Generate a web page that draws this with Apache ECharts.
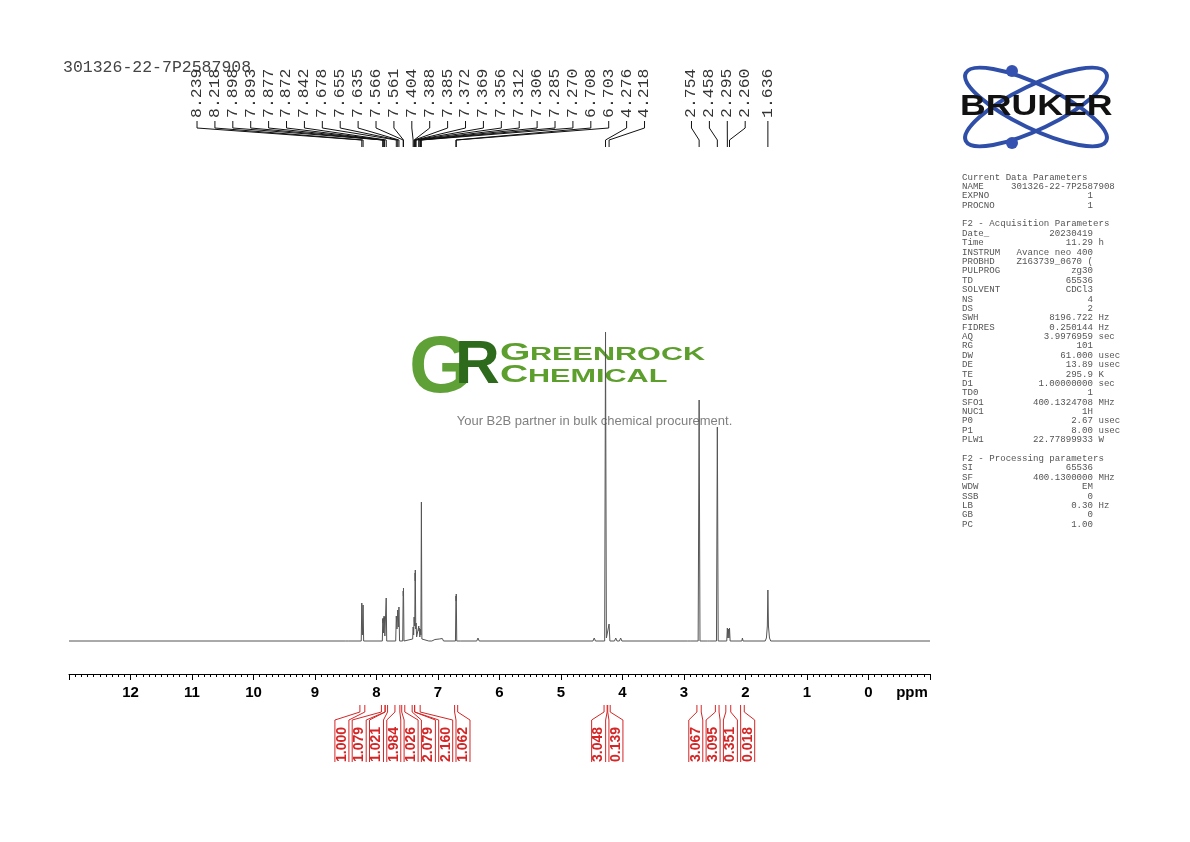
<!DOCTYPE html>
<html><head><meta charset="utf-8">
<script src="https://cdn.jsdelivr.net/npm/echarts/dist/echarts.min.js"></script>
<style>html,body{margin:0;padding:0;background:#fff}#c{width:1190px;height:842px}</style>
</head><body><div id="c"></div>
<script>
// ---------------- data ----------------
const sampleName = '301326-22-7P2587908';

// spectrum trace: [chemical shift (ppm), intensity]
const spectrum = [
  [13.0,0],[8.50,0],[8.48,1.5],[8.46,0],
  [8.248,0],[8.239,38],[8.229,6],[8.218,36],[8.209,0],
  [7.905,0],[7.898,22],[7.895,18],[7.893,23],[7.885,8],[7.877,25],[7.875,20],[7.872,24],[7.864,5],[7.850,5],[7.842,43],[7.834,0],
  [7.688,0],[7.678,25],[7.667,12],[7.655,31],[7.645,14],[7.635,34],[7.625,0],
  [7.574,0],[7.566,50],[7.563,45],[7.561,53],[7.553,0],
  [7.412,2],[7.404,14],[7.396,6],[7.388,24],[7.387,20],[7.385,22],[7.378,15],[7.372,68],[7.370,60],[7.369,71],[7.362,12],[7.356,18],[7.348,4],
  [7.320,4],[7.312,15],[7.309,10],[7.306,13],[7.295,4],[7.285,12],[7.278,6],[7.270,139],[7.262,2],
  [7.15,0],[7.12,2],[7.10,0],[7.05,1.5],[7.03,0],[6.98,2],[6.96,0],[6.93,2.5],[6.91,0],
  [6.716,0],[6.708,45],[6.705,40],[6.703,47],[6.695,0],
  [6.63,0],[6.62,2],[6.61,0],[6.37,0],[6.35,3],[6.33,0],
  [4.48,0],[4.46,3],[4.44,0],
  [4.29,0],[4.276,309],[4.262,3],[4.232,2],[4.218,17],[4.205,0],
  [4.13,0],[4.11,3],[4.09,0],[4.05,0],[4.03,3],[4.01,0],
  [2.94,0],[2.92,2],[2.90,0],
  [2.77,0],[2.754,241],[2.740,0],
  [2.62,0],[2.60,2],[2.58,0],
  [2.472,0],[2.458,214],[2.444,0],
  [2.305,0],[2.295,13],[2.287,3],[2.278,12],[2.269,3],[2.260,13],[2.250,0],
  [2.06,0],[2.05,3],[2.04,0],
  [1.68,0],[1.66,3],[1.645,15],[1.636,51],[1.627,15],[1.61,3],[1.59,0],
  [-1.0,0]
];

const peakLabels = [8.239, 8.218, 7.898, 7.893, 7.877, 7.872, 7.842, 7.678, 7.655, 7.635, 7.566, 7.561,
  7.404, 7.388, 7.385, 7.372, 7.369, 7.356, 7.312, 7.306, 7.285, 7.270, 6.708, 6.703, 4.276, 4.218,
  2.754, 2.458, 2.295, 2.260, 1.636];

const integralValues = ['1.000','1.079','1.021','1.984','1.026','2.079','2.160','1.062','3.048','0.139','3.067','3.095','0.351','0.018'];
const integralFrom = [8.27, 7.92, 7.86, 7.70, 7.59, 7.42, 7.38, 6.73, 4.30, 4.24, 2.79, 2.49, 2.32, 2.08];
const integralTo   = [8.19, 7.86, 7.82, 7.62, 7.54, 7.38, 7.29, 6.68, 4.25, 4.20, 2.72, 2.43, 2.24, 2.02];

const axisMin = -1, axisMax = 13, axisStep = 1;

const curKeys = ['NAME', 'EXPNO', 'PROCNO'];
const curValues = [sampleName, '1', '1'];
const acqKeys = ['Date_','Time','INSTRUM','PROBHD','PULPROG','TD','SOLVENT','NS','DS','SWH','FIDRES','AQ','RG','DW','DE','TE','D1','TD0','SFO1','NUC1','P0','P1','PLW1'];
const acqValues = ['20230419','11.29','Avance neo 400','Z163739_0670 (','zg30','65536','CDCl3','4','2','8196.722','0.250144','3.9976959','101','61.000','13.89','295.9','1.00000000','1','400.1324708','1H','2.67','8.00','22.77899933'];
const acqUnits = ['','h','','','','','','','','Hz','Hz','sec','','usec','usec','K','sec','','MHz','','usec','usec','W'];
const procKeys = ['SI','SF','WDW','SSB','LB','GB','PC'];
const procValues = ['65536','400.1300000','EM','0','0.30','0','1.00'];
const procUnits = ['','MHz','','','Hz','',''];

// ---------------- helpers ----------------
function fmt(k, v, u) { return k.padEnd(8) + v.padStart(16) + (u ? ' ' + u : ''); }
const paramLines = ['Current Data Parameters'];
curKeys.forEach((k, i) => paramLines.push(i === 0 ? k.padEnd(9) + curValues[i] : fmt(k, curValues[i], '')));
paramLines.push('');
paramLines.push('F2 - Acquisition Parameters');
acqKeys.forEach((k, i) => paramLines.push(fmt(k, acqValues[i], acqUnits[i])));
paramLines.push('');
paramLines.push('F2 - Processing parameters');
procKeys.forEach((k, i) => paramLines.push(fmt(k, procValues[i], procUnits[i])));

// spread labels evenly in clusters centred on their mean target position
function spread(xs, gap) {
  const items = xs.map((x, i) => ({ x, i })).sort((a, b) => a.x - b.x);
  let clusters = items.map(it => ({ members: [it], center: it.x }));
  let changed = true;
  while (changed) {
    changed = false;
    for (let k = 0; k < clusters.length - 1; k++) {
      const a = clusters[k], b = clusters[k + 1];
      const aR = a.center + (a.members.length - 1) / 2 * gap;
      const bL = b.center - (b.members.length - 1) / 2 * gap;
      if (bL - aR < gap) {
        const m = a.members.concat(b.members);
        const c = m.reduce((s, t) => s + t.x, 0) / m.length;
        clusters.splice(k, 2, { members: m, center: c });
        changed = true; break;
      }
    }
  }
  const out = new Array(xs.length);
  clusters.forEach(c => c.members.forEach((m, j) => { out[m.i] = c.center + (j - (c.members.length - 1) / 2) * gap; }));
  return out;
}

const RED = '#d42626';
const chart = echarts.init(document.getElementById('c'), null, { renderer: 'canvas' });

chart.setOption({
  animation: false,
  backgroundColor: '#fff',
  grid: { left: 69, right: 260, top: 300, bottom: 168, outerBoundsMode: 'none', containLabel: false },
  xAxis: {
    type: 'value', min: axisMin, max: axisMax, interval: axisStep, inverse: true,
    axisLine: { show: true, onZero: false, lineStyle: { color: '#000', width: 1 } },
    axisTick: { show: true, length: 6, inside: false, lineStyle: { color: '#000', width: 1 } },
    minorTick: { show: true, splitNumber: 10, length: 3, lineStyle: { color: '#000', width: 1 } },
    splitLine: { show: false },
    axisLabel: {
      formatter: v => (v === axisMax || v === axisMin) ? '' : String(v),
      color: '#000', fontSize: 15, fontWeight: 'bold', fontFamily: 'Liberation Sans', margin: 11,
      showMinLabel: true, showMaxLabel: true
    }
  },
  yAxis: { type: 'value', min: -33, max: 341, show: false },
  graphic: [
    { type: 'text', x: 63, y: 68, style: { text: sampleName, font: '16.5px "Liberation Mono"', fill: '#444', verticalAlign: 'middle' } },
    { type: 'text', x: 962, y: 172.5, style: { text: paramLines.join('\n'), font: '9.1px "Liberation Mono"', lineHeight: 9.38, fill: '#555', verticalAlign: 'top' } },
    // GreenRock watermark
    { type: 'text', x: 440, y: 370, style: { text: 'G', font: 'bold 80px "Liberation Sans"', fill: '#5fa136', align: 'center', verticalAlign: 'middle' } },
    { type: 'text', x: 455, y: 366, style: { text: 'R', font: 'bold 62px "Liberation Sans"', fill: '#2e6a1c', align: 'left', verticalAlign: 'middle' } },
    { type: 'text', x: 500, y: 354, scaleX: 1.7, style: { text: 'G', font: 'bold 23px "Liberation Sans"', fill: '#5c9f2c', verticalAlign: 'middle' } },
    { type: 'text', x: 530, y: 355, scaleX: 1.7, style: { text: 'REENROCK', font: 'bold 18px "Liberation Sans"', fill: '#5c9f2c', verticalAlign: 'middle' } },
    { type: 'text', x: 500, y: 376, scaleX: 1.7, style: { text: 'C', font: 'bold 23px "Liberation Sans"', fill: '#5c9f2c', verticalAlign: 'middle' } },
    { type: 'text', x: 528, y: 377, scaleX: 1.7, style: { text: 'HEMICAL', font: 'bold 18px "Liberation Sans"', fill: '#5c9f2c', verticalAlign: 'middle' } },
    { type: 'text', x: 594.5, y: 421, style: { text: 'Your B2B partner in bulk chemical procurement.', font: '13px "Liberation Sans"', fill: '#808080', align: 'center', verticalAlign: 'middle' } },
    // Bruker logo
    { type: 'ellipse', shape: { cx: 1036, cy: 107, rx: 78, ry: 22 }, originX: 1036, originY: 107, rotation: 0.45, style: { fill: null, stroke: '#2f4ea8', lineWidth: 4 } },
    { type: 'ellipse', shape: { cx: 1036, cy: 107, rx: 78, ry: 22 }, originX: 1036, originY: 107, rotation: -0.45, style: { fill: null, stroke: '#2f4ea8', lineWidth: 4 } },
    { type: 'circle', shape: { cx: 1012, cy: 71, r: 6 }, style: { fill: '#3552b0' } },
    { type: 'circle', shape: { cx: 1012, cy: 143, r: 6 }, style: { fill: '#3552b0' } },
    { type: 'text', x: 960, y: 107, scaleX: 1.23, style: { text: 'BRUKER', font: 'bold 29px "Liberation Sans"', fill: '#111', verticalAlign: 'middle' } },
    { type: 'text', x: 912, y: 693, style: { text: 'ppm', font: 'bold 15px "Liberation Sans"', fill: '#000', align: 'center', verticalAlign: 'middle' } }
  ],
  series: [
    {
      type: 'line', data: spectrum, showSymbol: false, symbol: 'none', silent: true,
      lineStyle: { color: '#555', width: 1 }, z: 3
    },
    {
      type: 'custom', coordinateSystem: 'cartesian2d', clip: false, silent: true,
      data: peakLabels.map(p => [p, 0]),
      renderItem: function (params, api) {
        const i = params.dataIndex;
        const pxs = peakLabels.map(p => api.coord([p, 0])[0]);
        const lxs = spread(pxs, 17.9);
        const px = pxs[i], lx = lxs[i];
        return { type: 'group', children: [
          { type: 'text', x: lx, y: 118, rotation: Math.PI / 2, scaleX: 1.1,
            style: { text: peakLabels[i].toFixed(3), font: '15px "Liberation Mono"', fill: '#333', align: 'left', verticalAlign: 'middle' } },
          { type: 'polyline', shape: { points: [[lx, 121], [lx, 128], [px, 140], [px, 147]] },
            style: { stroke: '#111', lineWidth: 1, fill: null } }
        ] };
      }
    },
    {
      type: 'custom', coordinateSystem: 'cartesian2d', clip: false, silent: true,
      data: integralValues.map((v, i) => [(integralFrom[i] + integralTo[i]) / 2, 0]),
      renderItem: function (params, api) {
        const i = params.dataIndex;
        const cxs = integralValues.map((v, k) => api.coord([(integralFrom[k] + integralTo[k]) / 2, 0])[0]);
        const lxs = spread(cxs, 17.3);
        const lx = lxs[i];
        const xa = api.coord([integralFrom[i], 0])[0], xb = api.coord([integralTo[i], 0])[0];
        return { type: 'group', children: [
          { type: 'text', x: lx, y: 762, rotation: Math.PI / 2,
            style: { text: integralValues[i], font: 'bold 14px "Liberation Sans"', fill: RED, align: 'left', verticalAlign: 'middle' } },
          { type: 'polyline', shape: { points: [[xa, 705], [xa, 712], [lx - 7, 720], [lx - 7, 762]] }, style: { stroke: RED, lineWidth: 1, fill: null } },
          { type: 'polyline', shape: { points: [[xb, 705], [xb, 712], [lx + 7, 720], [lx + 7, 762]] }, style: { stroke: RED, lineWidth: 1, fill: null } }
        ] };
      }
    }
  ]
});
</script></body></html>
